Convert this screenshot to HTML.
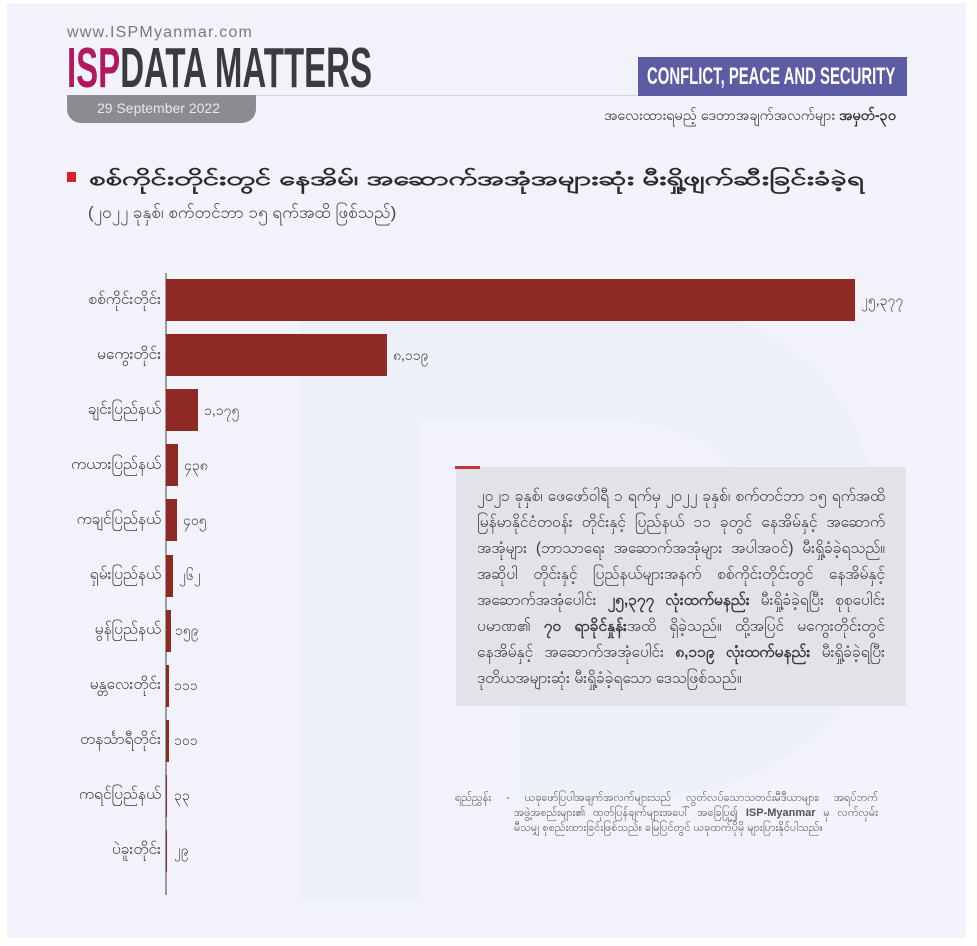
<!DOCTYPE html>
<html>
<head>
<meta charset="utf-8">
<style>
  html,body{margin:0;padding:0;background:#ffffff;}
  body{width:977px;height:946px;position:relative;overflow:hidden;font-family:"Liberation Sans",sans-serif;color:#3a3a3a;}
  .panel{position:absolute;left:7px;top:3px;width:959px;height:935px;background:#f1f2fa;overflow:hidden;}
  .abs{position:absolute;white-space:nowrap;}
  .lbl{position:absolute;right:816px;width:140px;text-align:right;font-size:15.5px;color:#3c3c3c;white-space:nowrap;height:24px;line-height:24px;}
  .bar{position:absolute;left:166px;height:42px;background:#8e2a23;}
  .val{position:absolute;font-size:14px;color:#444;white-space:nowrap;height:24px;line-height:24px;}
  .box{position:absolute;left:456px;top:467px;width:450px;height:239px;background:#e2e3e9;}
  .bl{position:absolute;left:477px;width:408px;font-size:15.5px;color:#3a3a3a;white-space:nowrap;height:26px;line-height:26px;text-align:justify;text-align-last:justify;}
  .fn{position:absolute;font-size:11px;color:#555;white-space:nowrap;height:15px;line-height:15px;text-align:justify;text-align-last:justify;}
</style>
</head>
<body>
<div class="panel"></div>

<!-- faint watermark shapes -->
<svg class="abs" style="left:0;top:0" width="977" height="946">
  <path d="M300 300 L300 900 L420 900 L420 420 L600 420 Q760 420 760 560 Q760 700 600 700 L520 700 L520 800 L600 800 Q880 800 880 560 Q880 300 600 300 Z" fill="#e9eaf3" opacity="0.3"/>
</svg>

<!-- header -->
<div class="abs" style="left:67px;top:24px;font-size:16px;color:#7a7a7a;letter-spacing:1.2px;">www.ISPMyanmar.com</div>
<div class="abs" style="left:67px;top:40px;font-size:57px;font-weight:bold;line-height:57px;transform:scaleX(0.579);transform-origin:0 0;">
  <span style="color:#b3185e;">ISP</span><span style="color:#3b3b3d;">DATA MATTERS</span>
</div>
<div class="abs" style="left:67px;top:95px;width:573px;height:1px;background:#d4d5dc;"></div>
<div class="abs" style="left:67px;top:95px;width:189px;height:28px;background:#8c8c90;border-radius:0 0 14px 14px;"></div>
<div class="abs" style="left:97px;top:100px;font-size:14px;color:#e8e8ea;">29 September 2022</div>

<div class="abs" style="left:638px;top:57px;width:269px;height:39px;background:#5d5ba3;"></div>
<div class="abs" style="left:647px;top:62px;font-size:24px;font-weight:bold;color:#ffffff;line-height:30px;transform:scaleX(0.62);transform-origin:0 0;">CONFLICT, PEACE AND SECURITY</div>

<div class="abs" style="left:560px;top:104px;width:336px;height:24px;line-height:24px;font-size:14.5px;color:#333;text-align:right;">အလေးထားရမည့် ဒေတာအချက်အလက်များ <b>အမှတ်-၃၀</b></div>

<!-- title -->
<div class="abs" style="left:67px;top:172px;width:9px;height:10px;background:#d3222a;"></div>
<div class="abs" style="left:89px;top:166px;height:28px;line-height:28px;font-size:19px;font-weight:bold;color:#2a2a2a;transform:scaleX(1.54);transform-origin:0 0;">စစ်ကိုင်းတိုင်းတွင် နေအိမ်၊ အဆောက်အအုံအများဆုံး မီးရှို့ဖျက်ဆီးခြင်းခံခဲ့ရ</div>
<div class="abs" style="left:88px;top:199px;height:28px;line-height:28px;font-size:17px;color:#444;">(၂၀၂၂ ခုနှစ်၊ စက်တင်ဘာ ၁၅ ရက်အထိ ဖြစ်သည်)</div>

<!-- axis -->
<div class="abs" style="left:165px;top:273px;width:1.5px;height:622px;background:#9a9a9e;"></div>

<!-- bars -->
<div class="lbl" style="top:288px;">စစ်ကိုင်းတိုင်း</div>
<div class="bar" style="top:279px;width:689px;"></div>
<div class="val" style="left:861px;top:288px;">၂၅,၃၇၇</div>

<div class="lbl" style="top:343px;">မကွေးတိုင်း</div>
<div class="bar" style="top:334px;width:221px;"></div>
<div class="val" style="left:393px;top:343px;">၈,၁၁၉</div>

<div class="lbl" style="top:398px;">ချင်းပြည်နယ်</div>
<div class="bar" style="top:389px;width:32px;"></div>
<div class="val" style="left:204px;top:398px;">၁,၁၇၅</div>

<div class="lbl" style="top:453px;">ကယားပြည်နယ်</div>
<div class="bar" style="top:444px;width:12px;"></div>
<div class="val" style="left:184px;top:453px;">၄၃၈</div>

<div class="lbl" style="top:508px;">ကချင်ပြည်နယ်</div>
<div class="bar" style="top:499px;width:11px;"></div>
<div class="val" style="left:183px;top:508px;">၄၀၅</div>

<div class="lbl" style="top:563px;">ရှမ်းပြည်နယ်</div>
<div class="bar" style="top:555px;width:7px;"></div>
<div class="val" style="left:179px;top:563px;">၂၆၂</div>

<div class="lbl" style="top:618px;">မွန်ပြည်နယ်</div>
<div class="bar" style="top:610px;width:4.5px;"></div>
<div class="val" style="left:175px;top:618px;">၁၅၉</div>

<div class="lbl" style="top:673px;">မန္တလေးတိုင်း</div>
<div class="bar" style="top:665px;width:3px;"></div>
<div class="val" style="left:174px;top:673px;">၁၁၁</div>

<div class="lbl" style="top:728px;">တနင်္သာရီတိုင်း</div>
<div class="bar" style="top:720px;width:3px;"></div>
<div class="val" style="left:174px;top:728px;">၁၀၁</div>

<div class="lbl" style="top:783px;">ကရင်ပြည်နယ်</div>
<div class="bar" style="top:775px;width:1px;"></div>
<div class="val" style="left:174px;top:783px;">၃၃</div>

<div class="lbl" style="top:838px;">ပဲခူးတိုင်း</div>
<div class="bar" style="top:830px;width:1px;"></div>
<div class="val" style="left:174px;top:838px;">၂၉</div>

<!-- text box -->
<div class="box"></div>
<div class="abs" style="left:455px;top:466px;width:25px;height:3px;background:#c8323a;"></div>
<div class="bl" style="top:484px;">၂၀၂၁ ခုနှစ်၊ ဖေဖော်ဝါရီ ၁ ရက်မှ ၂၀၂၂ ခုနှစ်၊ စက်တင်ဘာ ၁၅ ရက်အထိ</div>
<div class="bl" style="top:510px;">မြန်မာနိုင်ငံတဝန်း တိုင်းနှင့် ပြည်နယ် ၁၁ ခုတွင် နေအိမ်နှင့် အဆောက်</div>
<div class="bl" style="top:536px;">အအုံများ (ဘာသာရေး အဆောက်အအုံများ အပါအဝင်) မီးရှို့ခံခဲ့ရသည်။</div>
<div class="bl" style="top:562px;">အဆိုပါ တိုင်းနှင့် ပြည်နယ်များအနက် စစ်ကိုင်းတိုင်းတွင် နေအိမ်နှင့်</div>
<div class="bl" style="top:588px;">အဆောက်အအုံပေါင်း <b>၂၅,၃၇၇ လုံးထက်မနည်း</b> မီးရှို့ခံခဲ့ရပြီး စုစုပေါင်း</div>
<div class="bl" style="top:614px;">ပမာဏ၏ <b>၇၀ ရာခိုင်နှုန်း</b>အထိ ရှိခဲ့သည်။ ထို့အပြင် မကွေးတိုင်းတွင်</div>
<div class="bl" style="top:640px;">နေအိမ်နှင့် အဆောက်အအုံပေါင်း <b>၈,၁၁၉ လုံးထက်မနည်း</b> မီးရှို့ခံခဲ့ရပြီး</div>
<div class="bl" style="top:666px;text-align-last:left;">ဒုတိယအများဆုံး မီးရှို့ခံခဲ့ရသော ဒေသဖြစ်သည်။</div>

<!-- footnote -->
<div class="fn" style="left:455px;top:791px;width:423px;">ရည်ညွှန်း - ယခုဖော်ပြပါအချက်အလက်များသည် လွတ်လပ်သောသတင်းမီဒီယာများ၊ အရပ်ဘက်</div>
<div class="fn" style="left:514px;top:806px;width:364px;">အဖွဲ့အစည်းများ၏ ထုတ်ပြန်ချက်များအပေါ် အခြေပြု၍ <b>ISP-Myanmar</b> မှ လက်လှမ်း</div>
<div class="fn" style="left:514px;top:821px;width:344px;text-align-last:left;">မီသမျှ စုစည်းထားခြင်းဖြစ်သည်။ မြေပြင်တွင် ယခုထက်ပိုမို များပြားနိုင်ပါသည်။</div>

</body>
</html>
